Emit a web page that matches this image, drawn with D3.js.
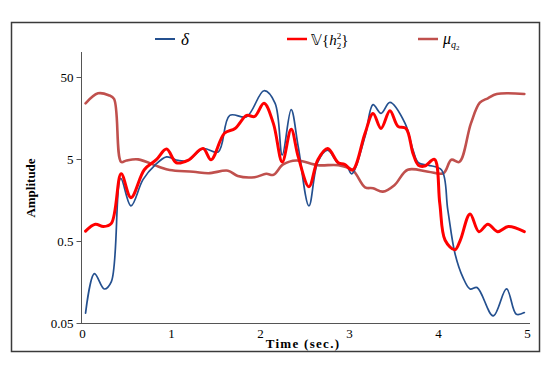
<!DOCTYPE html>
<html>
<head>
<meta charset="UTF-8" />
<title>Amplitude vs time</title>
<script src="https://cdn.jsdelivr.net/npm/d3@7"></script>
<style>
    body { margin: 0; background: #fff; }
    svg text { font-family: "Liberation Serif", "Times New Roman", serif; fill: #000; }
</style>
</head>
<body>
<div id="chart"></div>
<script>
    // time (sec.) / amplitude samples
    var deltaT = [0.04, 0.14, 0.25, 0.33, 0.435, 0.55, 0.685, 0.82, 0.95, 1.08, 1.19, 1.36, 1.53, 1.66, 1.85, 2.045, 2.17, 2.25, 2.35, 2.43, 2.55, 2.65, 2.76, 2.88, 2.97, 3.03, 3.18, 3.27, 3.36, 3.46, 3.63, 3.72, 3.78, 3.89, 4.04, 4.11, 4.19, 4.28, 4.36, 4.44, 4.62, 4.77, 4.88, 4.97];
    var deltaV = [0.066, 0.20, 0.13, 0.16, 2.9, 1.34, 2.8, 4.2, 5.3, 4.8, 4.8, 6.7, 6.1, 17, 16.4, 34, 23.9, 5.6, 20, 7, 1.34, 4.6, 6.4, 4.4, 4.2, 3.3, 9.4, 23, 18, 24.5, 13.6, 6.4, 4.5, 4.2, 3.67, 1.2, 0.354, 0.18, 0.13, 0.135, 0.061, 0.13, 0.064, 0.067];

    var varT = [0.04, 0.15, 0.24, 0.33, 0.44, 0.55, 0.70, 0.835, 0.95, 1.06, 1.19, 1.36, 1.45, 1.60, 1.72, 1.85, 1.94, 2.045, 2.15, 2.25, 2.35, 2.43, 2.55, 2.65, 2.76, 2.88, 2.95, 3.04, 3.18, 3.27, 3.36, 3.46, 3.55, 3.64, 3.72, 3.78, 3.85, 3.96, 4.02, 4.08, 4.19, 4.25, 4.36, 4.46, 4.56, 4.67, 4.79, 4.97];
    var varV = [0.66, 0.80, 0.75, 0.82, 3.3, 1.69, 3.7, 4.9, 6.6, 4.5, 4.8, 6.7, 4.9, 10.3, 11.8, 17, 16.5, 23.9, 13.6, 4.6, 11.5, 5.3, 2.3, 4.9, 6.7, 4.5, 4.3, 3.67, 10.3, 18, 11.8, 19.4, 12.5, 11.8, 5.8, 4.2, 4.1, 4.95, 1.44, 0.51, 0.39, 0.51, 1.07, 0.65, 0.8, 0.65, 0.75, 0.65];

    var muT = [0.04, 0.18, 0.30, 0.36, 0.44, 0.50, 0.63, 0.87, 0.985, 1.25, 1.42, 1.64, 1.75, 1.94, 2.07, 2.15, 2.26, 2.41, 2.65, 2.88, 3.04, 3.18, 3.27, 3.38, 3.51, 3.66, 3.89, 4.06, 4.15, 4.24, 4.37, 4.47, 4.56, 4.66, 4.97];
    var muV = [23.9, 31.6, 30, 27, 4.6, 4.8, 4.95, 4.0, 3.67, 3.5, 3.35, 3.6, 3.1, 3.0, 3.3, 3.2, 4.3, 4.8, 4.2, 4.2, 3.67, 2.26, 2.2, 2.0, 2.4, 3.7, 3.5, 3.35, 4.9, 4.6, 13.6, 24.3, 27.5, 31, 31];

    var xTicks = [0, 1, 2, 3, 4, 5];
    var yTicks = [0.05, 0.5, 5, 50];

    var W = 550, H = 365;
    var svg = d3.select("#chart").append("svg").attr("width", W).attr("height", H);

    // outer frame
    svg.append("rect").attr("x", 11.5).attr("y", 22.5).attr("width", 528).attr("height", 329)
        .attr("fill", "none").attr("stroke", "#3a3a3a").attr("stroke-width", 1.5);

    var x = d3.scaleLinear().domain([0, 5]).range([82, 527]);
    var y = d3.scaleLog().domain([0.05, 50]).range([323, 77]);

    // axes
    svg.append("line").attr("x1", 81.5).attr("x2", 81.5).attr("y1", 52).attr("y2", 323)
        .attr("stroke", "#555").attr("stroke-width", 1);
    svg.append("line").attr("x1", 81).attr("x2", 530).attr("y1", 323.5).attr("y2", 323.5)
        .attr("stroke", "#555").attr("stroke-width", 1);

    var yAxis = svg.append("g").attr("transform", "translate(81.5,0)")
        .call(d3.axisLeft(y).tickValues(yTicks).tickSize(5).tickPadding(3).tickFormat(function (d) { return String(d); }));
    yAxis.select(".domain").remove();
    yAxis.selectAll("line").attr("stroke", "#555");
    yAxis.selectAll("text").attr("font-size", 13).attr("font-family", "Liberation Serif");

    var xAxis = svg.append("g").attr("transform", "translate(0,323.5)")
        .call(d3.axisBottom(x).tickValues(xTicks).tickSize(0).tickPadding(5).tickFormat(d3.format("d")));
    xAxis.select(".domain").remove();
    xAxis.selectAll("text").attr("font-size", 13).attr("font-family", "Liberation Serif");

    svg.append("text").attr("x", 303).attr("y", 348).attr("text-anchor", "middle")
        .attr("font-size", 13).attr("font-weight", "bold").attr("letter-spacing", 1.3).text("Time (sec.)");
    svg.append("text").attr("transform", "translate(35,188) rotate(-90)").attr("text-anchor", "middle")
        .attr("font-size", 13).attr("font-weight", "bold").text("Amplitude");

    // series
    var line = d3.line().x(function (d) { return x(d[0]); }).y(function (d) { return y(d[1]); })
        .curve(d3.curveCatmullRom.alpha(0.5));

    var series = [
        { t: muT, v: muV, color: "#c0504d", w: 2.6 },
        { t: deltaT, v: deltaV, color: "#24508f", w: 1.7 },
        { t: varT, v: varV, color: "#ff0000", w: 3 }
    ];
    series.forEach(function (s) {
        svg.append("path").datum(d3.zip(s.t, s.v)).attr("d", line)
            .attr("fill", "none").attr("stroke", s.color).attr("stroke-width", s.w)
            .attr("stroke-linejoin", "round").attr("stroke-linecap", "round");
    });

    // legend
    var lg = svg.append("g");
    lg.append("line").attr("x1", 155).attr("x2", 175).attr("y1", 39).attr("y2", 39).attr("stroke", "#24508f").attr("stroke-width", 2);
    lg.append("text").attr("x", 181).attr("y", 45).attr("font-size", 17).attr("font-style", "italic").text("δ");

    lg.append("line").attr("x1", 287).attr("x2", 307).attr("y1", 39).attr("y2", 39).attr("stroke", "#ff0000").attr("stroke-width", 2.5);
    var t2 = lg.append("text").attr("x", 311).attr("y", 45).attr("font-size", 15);
    t2.append("tspan").text("𝕍{");
    t2.append("tspan").attr("font-style", "italic").text("h");
    t2.append("tspan").attr("font-size", 9).attr("dy", -6).text("2");
    t2.append("tspan").attr("font-size", 9).attr("dx", -4.5).attr("dy", 10).text("2");
    t2.append("tspan").attr("dy", -4).text("}");

    lg.append("line").attr("x1", 418).attr("x2", 438).attr("y1", 39).attr("y2", 39).attr("stroke", "#c0504d").attr("stroke-width", 2.5);
    var t3 = lg.append("text").attr("x", 443).attr("y", 44).attr("font-size", 16);
    t3.append("tspan").attr("font-style", "italic").text("μ");
    t3.append("tspan").attr("font-size", 10).attr("font-style", "italic").attr("dy", 4).text("q");
    t3.append("tspan").attr("font-size", 7).attr("dy", 2).text("2");
</script>
</body>
</html>
